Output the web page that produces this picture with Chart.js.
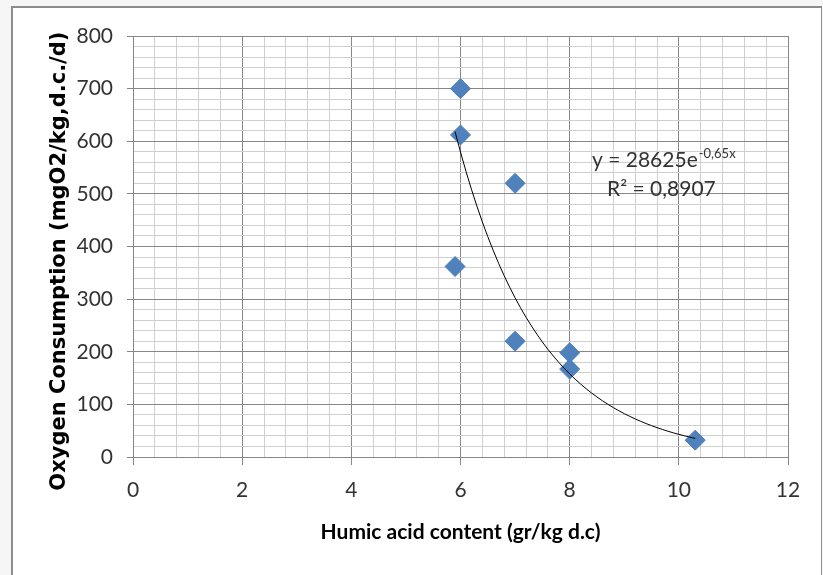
<!DOCTYPE html>
<html>
<head>
<meta charset="utf-8">
<script src="https://cdn.jsdelivr.net/npm/chart.js@4.4.1/dist/chart.umd.min.js"></script>
<style>
  html, body { margin: 0; padding: 0; width: 823px; height: 575px; overflow: hidden; background: #f6f6f6; }
  .frame { position: absolute; left: 11px; top: 6px; width: 808px; height: 590px; background: #fff;
           border: 2px solid #8c8c8c; border-right-width: 1px; }
  #chart { position: absolute; left: 0; top: 0; }
</style>
</head>
<body>
<div class="frame"></div>
<canvas id="chart" width="823" height="575"></canvas>
<script>
/* data */
const humicContent = [6, 6, 7, 5.9, 7, 8, 8, 10.3];
const oxygenUse = [700, 612, 520, 362, 220, 198, 167, 32];
const xTickLabels = [0, 2, 4, 6, 8, 10, 12];
const yTickLabels = [0, 100, 200, 300, 400, 500, 600, 700, 800];
/* exponential trendline shown on the chart: y = a * e^(b x) */
const trendA = 28625;
const trendB = -0.65;
const eqLabel = "y = 28625e";
const eqExponent = "-0,65x";
const r2Label = "R\u00B2 = 0,8907";

const isMajor = (v, list) => list.some(t => Math.abs(t - v) < 1e-6);

/* trend curve over the range of the measured x values */
const xMin = Math.min(...humicContent), xMax = Math.max(...humicContent);
const trendPts = [];
for (let i = 0; i <= 44; i++) {
  const x = xMin + (xMax - xMin) * i / 44;
  trendPts.push({ x, y: trendA * Math.exp(trendB * x) });
}

const MAJOR = "#878787", MINOR = "#cfcfcf", TEXT = "#333";

const equationText = {
  id: "equationText",
  afterDatasetsDraw(chart) {
    const { ctx, chartArea: a } = chart;
    ctx.save();
    ctx.fillStyle = TEXT;
    ctx.textBaseline = "alphabetic";
    ctx.font = "21px Lato";
    const x0 = a.left + 459, y0 = a.top + 131;
    ctx.fillText(eqLabel, x0, y0);
    const w = ctx.measureText(eqLabel).width;
    ctx.font = "13px Lato";
    ctx.fillText(eqExponent, x0 + w + 1, y0 - 9);
    ctx.font = "21px Lato";
    ctx.fillText(r2Label, a.left + 474, a.top + 160);
    ctx.restore();
  }
};

new Chart(document.getElementById("chart"), {
  type: "scatter",
  data: {
    datasets: [
      {
        type: "line",
        data: trendPts,
        borderColor: "#000",
        borderWidth: 1,
        pointRadius: 0,
        tension: 0,
        fill: false,
      },
      {
        data: humicContent.map((x, i) => ({ x, y: oxygenUse[i] })),
        pointStyle: "rectRot",
        pointRadius: 10,
        pointHoverRadius: 10,
        backgroundColor: "#4F81BD",
        borderColor: "#4A7EBB",
        borderWidth: 1,
      },
    ],
  },
  options: {
    responsive: false,
    animation: false,
    layout: { padding: { left: 0, top: 36, right: 35, bottom: 0 } },
    plugins: { legend: { display: false }, tooltip: { enabled: false } },
    scales: {
      x: {
        type: "linear",
        min: 0, max: 12,
        afterFit(s) { s.height = 118; },
        ticks: {
          stepSize: 0.4,
          autoSkip: false,
          maxRotation: 0,
          padding: 13,
          color: TEXT,
          font: { family: "Lato", size: 21 },
          callback: v => isMajor(v, xTickLabels) ? String(Math.round(v)) : "",
        },
        grid: {
          color: c => isMajor(c.tick.value, xTickLabels) ? MAJOR : MINOR,
          tickColor: c => isMajor(c.tick.value, xTickLabels) ? MAJOR : "transparent",
          tickLength: 8,
          lineWidth: 1,
        },
        border: { color: MAJOR, width: 1 },
        title: {
          display: true,
          text: "Humic acid content (gr/kg d.c)",
          color: "#000",
          font: { family: "Lato", size: 21, weight: "bold" },
          padding: { top: 0, bottom: 30 },
        },
      },
      y: {
        min: 0, max: 800,
        afterFit(s) { s.width = 133; },
        ticks: {
          stepSize: 20,
          autoSkip: false,
          padding: 14,
          color: TEXT,
          font: { family: "Lato", size: 21 },
          callback: v => isMajor(v, yTickLabels) ? String(v) : "",
        },
        grid: {
          color: c => isMajor(c.tick.value, yTickLabels) ? MAJOR : MINOR,
          tickColor: c => isMajor(c.tick.value, yTickLabels) ? MAJOR : "transparent",
          tickLength: 6,
          lineWidth: 1,
        },
        border: { color: MAJOR, width: 1 },
        title: {
          display: true,
          text: "Oxygen Consumption (mgO2/kg,d.c./d)    ",
          color: "#000",
          font: { family: "DejaVu Sans", size: 21, weight: "bold" },
          padding: { top: 47, bottom: 0 },
        },
      },
    },
  },
  plugins: [equationText],
});
</script>
</body>
</html>
